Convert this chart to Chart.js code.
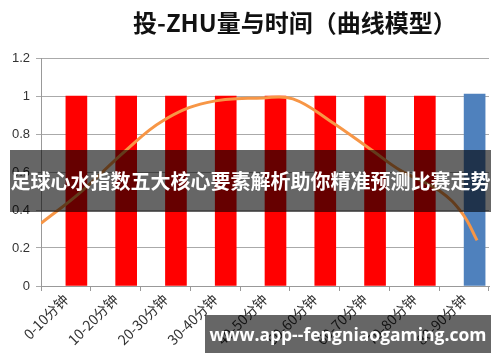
<!DOCTYPE html>
<html>
<head>
<meta charset="utf-8">
<script src="https://cdn.jsdelivr.net/npm/chart.js@4.4.1/dist/chart.umd.min.js"></script>
<style>
  html, body { margin: 0; padding: 0; background: #fff; }
  #wrap { position: relative; width: 500px; height: 362px; overflow: hidden; font-family: "Noto Sans CJK SC", "Noto Sans", sans-serif; }
  #title { position: absolute; left: 133px; top: 4px; font-size: 24px; font-weight: bold; color: #111; white-space: nowrap; }
  .band { position: absolute; background: rgba(0,0,0,0.6); color: #fff; font-weight: bold; white-space: nowrap; }
  #banner { left: 10px; top: 150px; width: 481px; height: 62px; font-size: 20px; line-height: 62px; text-align: center; }
  #mark { left: 205px; top: 315px; width: 286px; height: 38px; font-size: 17.5px; line-height: 38px; text-align: center; font-family: "Open Sans", "Noto Sans", sans-serif; }
</style>
</head>
<body>
<div id="wrap">
  <canvas id="c" width="500" height="362"></canvas>
  <div id="title">投-ZHU量与时间（曲线模型）</div>
  <div class="band" id="banner">足球心水指数五大核心要素解析助你精准预测比赛走势</div>
  <div class="band" id="mark">www.app--fengniaogaming.com</div>
</div>
<script>
const categories = ['0-10分钟', '10-20分钟', '20-30分钟', '30-40分钟', '40-50分钟', '50-60分钟', '60-70分钟', '70-80分钟', '80-90分钟'];
const barValues = [1, 1, 1, 1, 1, 1, 1, 1, 1.01];
const barColors = ['#ff0000', '#ff0000', '#ff0000', '#ff0000', '#ff0000', '#ff0000', '#ff0000', '#ff0000', '#4f81bd'];
// curve position along the category axis (fractional index) and value
const curveX = [-0.5, 0.28, 1.19, 1.95, 2.83, 3.96, 4.56, 5.3, 6.17, 6.71, 7.51, 7.97, 8.26];
const curveY = [0.33, 0.49, 0.71, 0.87, 0.965, 0.99, 0.985, 0.87, 0.71, 0.61, 0.5, 0.38, 0.24];
const yTicks = [0, 0.2, 0.4, 0.6, 0.8, 1, 1.2];

const tickFont = { family: 'Liberation Sans, Arial, sans-serif', size: 13 };

new Chart(document.getElementById('c'), {
  data: {
    labels: categories,
    datasets: [
      {
        type: 'line',
        data: curveX.map((x, i) => ({ x: x, y: curveY[i] })),
        xAxisID: 'x2',
        borderColor: '#f79646',
        borderWidth: 3,
        pointRadius: 0,
        tension: 0.4
      },
      {
        type: 'bar',
        data: barValues,
        backgroundColor: barColors,
        barThickness: 21
      }
    ]
  },
  options: {
    responsive: false,
    animation: false,
    layout: { padding: { top: 58, right: 11, left: 0, bottom: 0 } },
    plugins: { legend: { display: false }, tooltip: { enabled: false } },
    scales: {
      x: {
        grid: { drawOnChartArea: false, color: '#999', tickLength: 5 },
        border: { color: '#999' },
        ticks: { color: '#333', font: { family: 'Noto Sans CJK SC', size: 14 }, minRotation: 45, maxRotation: 45, padding: 0 },
        afterFit: s => { s.height = 76; }
      },
      x2: {
        type: 'linear',
        display: false,
        min: -0.5,
        max: 8.5
      },
      y: {
        min: 0,
        max: 1.2,
        afterBuildTicks: s => { s.ticks = yTicks.map(v => ({ value: v })); },
        grid: { color: '#aaa', tickLength: 5 },
        border: { color: '#999' },
        ticks: { color: '#333', font: tickFont, padding: 6, callback: v => String(v) },
        afterFit: s => { s.width = 41; }
      }
    }
  }
});
</script>
</body>
</html>
